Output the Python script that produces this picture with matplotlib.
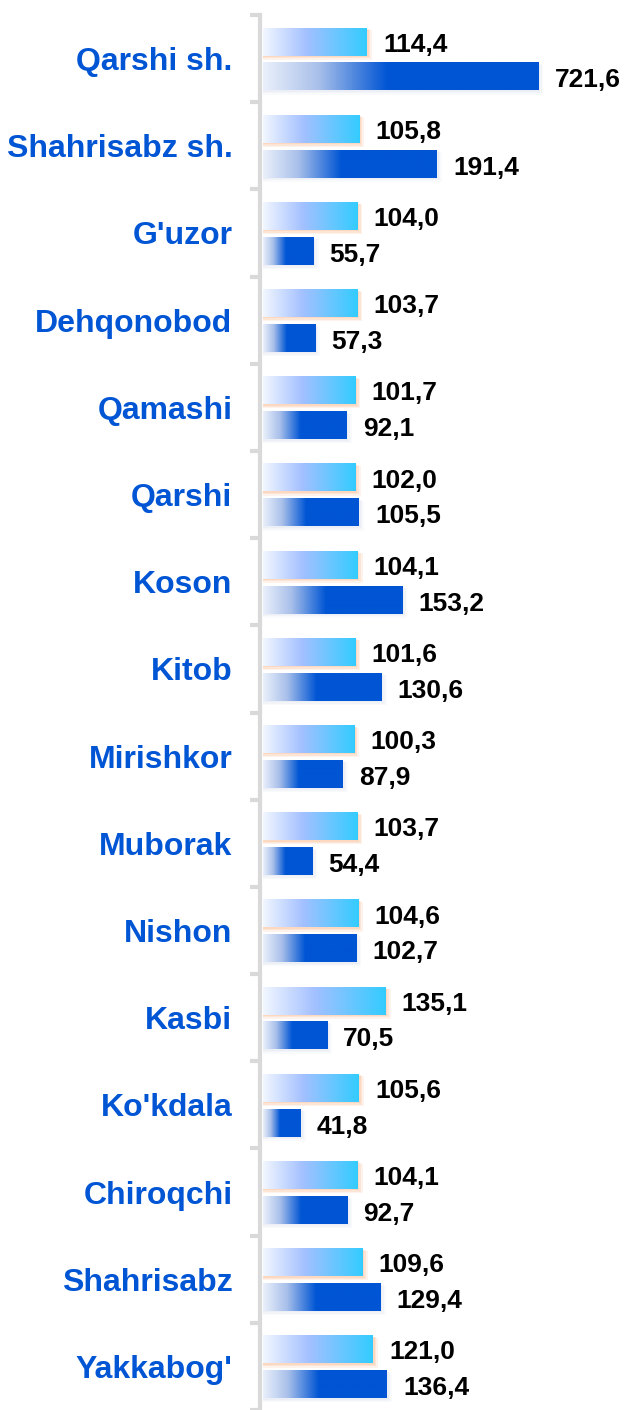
import numpy as np
import matplotlib
matplotlib.use("Agg")
import matplotlib.pyplot as plt
from matplotlib.colors import LinearSegmentedColormap
from matplotlib.patches import Rectangle

plt.rcParams['font.family'] = ['Liberation Sans', 'DejaVu Sans']

districts = ["Qarshi sh.", "Shahrisabz sh.", "G'uzor", "Dehqonobod", "Qamashi",
             "Qarshi", "Koson", "Kitob", "Mirishkor", "Muborak", "Nishon",
             "Kasbi", "Ko'kdala", "Chiroqchi", "Shahrisabz", "Yakkabog'"]
growth = [114.4, 105.8, 104.0, 103.7, 101.7, 102.0, 104.1, 101.6, 100.3,
          103.7, 104.6, 135.1, 105.6, 104.1, 109.6, 121.0]
share = [721.6, 191.4, 55.7, 57.3, 92.1, 105.5, 153.2, 130.6, 87.9,
         54.4, 102.7, 70.5, 41.8, 92.7, 129.4, 136.4]

BLUE = "#0055d4"
cm_light = LinearSegmentedColormap.from_list(
    "light", [(0, "#f2f7ff"), (0.42, "#a3c0ff"), (1, "#33ccff")])
cm_dark = LinearSegmentedColormap.from_list(
    "dark", [(0, "#eaf0fb"), (0.2, "#a9c0ea"), (0.45, BLUE), (1, BLUE)])
grad = np.linspace(0, 1, 256).reshape(1, -1)

W, H = 626, 1410
fig = plt.figure(figsize=(W / 100, H / 100), dpi=100)
ax = fig.add_axes([263 / W, 0, 1 - 263 / W, (H - 15) / H])

xmax = 363 / 0.909
cap = 303          # longest bar is cut short so the others stay readable
bh = 0.31
n = len(districts)
pos = np.arange(n)


def bar(y, v, cmap, glow, dy):
    w = min(v, cap)
    for k, a in zip((0.06, 0.04, 0.02), (0.2, 0.3, 0.4)):
        ax.add_patch(Rectangle((0, y - bh / 2 + k * 0.3), w + k * 90, bh + k * 0.5,
                               color=glow, alpha=a, lw=0, zorder=1))
    ax.imshow(grad, cmap=cmap, extent=[0, w, y + bh / 2, y - bh / 2],
              aspect="auto", zorder=2, interpolation="bilinear")
    ax.text(w + 17.6, y + dy, f"{v:.1f}".replace(".", ","), ha="left",
            va="center", fontsize=19, fontweight="bold", color="black")


for i in range(n):
    bar(pos[i] - 0.19, growth[i], cm_light, "#fcc6a2", 0.03)
    bar(pos[i] + 0.21, share[i], cm_dark, "#e4e9f2", 0.04)

ax.set_xlim(0, xmax)
ax.set_ylim(-0.5 + (H - 15) / 88, -0.5)

for s in ("top", "right", "bottom"):
    ax.spines[s].set_visible(False)
ax.spines["left"].set_color("#d9d9d9")
ax.spines["left"].set_linewidth(3)
ax.spines["left"].set_position(("outward", 2))
ax.set_xticks([])
ax.set_yticks(pos, districts)
ax.set_yticks(np.arange(n + 1) - 0.5, minor=True)
ax.tick_params(axis="y", which="major", length=0, pad=20,
               labelsize=23, labelcolor=BLUE)
for lab in ax.get_yticklabels():
    lab.set_fontweight("bold")
ax.tick_params(axis="y", which="minor", length=7, width=3, color="#d9d9d9")

fig.savefig("out.png", dpi=100)
